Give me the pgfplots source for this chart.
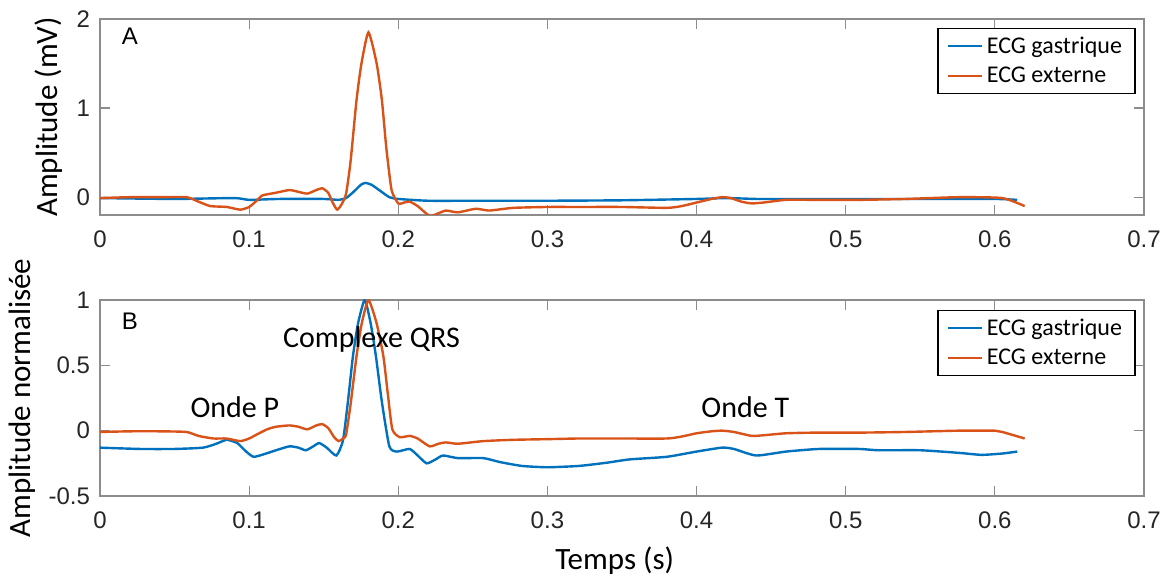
\documentclass[border=0pt]{standalone}
\usepackage{pgfplots}
\pgfplotsset{compat=1.18}
\usepackage{fontspec}
\setmainfont{Carlito}
\newfontfamily\arialfont{Liberation Sans}
\definecolor{mblue}{RGB}{0,114,189}
\definecolor{morange}{RGB}{217,83,25}

\pgfplotstableread{
t v
0 -0.01
0.05 -0.02
0.09 -0.01
0.10 -0.03
0.12 -0.02
0.15 -0.02
0.16 -0.03
0.165 -0.01
0.17 0.06
0.175 0.14
0.178 0.16
0.182 0.14
0.188 0.07
0.194 0.00
0.2 -0.02
0.22 -0.04
0.25 -0.04
0.3 -0.04
0.35 -0.035
0.4 -0.02
0.42 -0.01
0.44 -0.02
0.46 -0.02
0.5 -0.02
0.55 -0.02
0.6 -0.02
0.615 -0.03
}\topblue

\pgfplotstableread{
t v
0 -0.01
0.02 0.0
0.04 0.0
0.058 0.0
0.066 -0.05
0.074 -0.10
0.085 -0.11
0.094 -0.14
0.100 -0.11
0.105 -0.04
0.109 0.02
0.118 0.05
0.127 0.08
0.133 0.06
0.139 0.04
0.145 0.08
0.149 0.10
0.153 0.05
0.156 -0.06
0.159 -0.14
0.162 -0.08
0.165 0.04
0.168 0.40
0.172 1.09
0.1753 1.50
0.180 1.85
0.1855 1.50
0.189 1.09
0.192 0.55
0.1955 0.08
0.2 -0.07
0.204 -0.06
0.2076 -0.05
0.213 -0.10
0.221 -0.21
0.227 -0.18
0.232 -0.15
0.24 -0.17
0.252 -0.13
0.261 -0.15
0.277 -0.12
0.3 -0.11
0.321 -0.11
0.35 -0.11
0.38 -0.12
0.39 -0.10
0.40 -0.06
0.41 -0.02
0.417 0.00
0.423 -0.01
0.43 -0.05
0.437 -0.07
0.445 -0.06
0.46 -0.03
0.48 -0.03
0.509 -0.03
0.54 -0.02
0.576 0.0
0.605 -0.01
0.62 -0.10
}\toporange

\pgfplotstableread{
t v
0 -0.13
0.027 -0.14
0.05 -0.14
0.069 -0.13
0.078 -0.10
0.085 -0.07
0.092 -0.095
0.098 -0.16
0.103 -0.20
0.11 -0.18
0.118 -0.15
0.127 -0.12
0.133 -0.13
0.138 -0.15
0.143 -0.12
0.147 -0.095
0.152 -0.13
0.1585 -0.19
0.163 -0.07
0.1665 0.25
0.1696 0.57
0.173 0.82
0.1775 1.0
0.1815 0.82
0.185 0.57
0.189 0.22
0.194 -0.12
0.199 -0.16
0.2076 -0.14
0.213 -0.19
0.219 -0.25
0.225 -0.22
0.23 -0.19
0.24 -0.21
0.257 -0.21
0.268 -0.24
0.283 -0.27
0.3 -0.28
0.321 -0.27
0.34 -0.245
0.355 -0.22
0.38 -0.20
0.40 -0.16
0.417 -0.13
0.425 -0.14
0.44 -0.19
0.46 -0.16
0.482 -0.14
0.509 -0.14
0.522 -0.15
0.55 -0.15
0.576 -0.17
0.591 -0.185
0.605 -0.175
0.615 -0.16
}\botblue

\pgfplotstableread{
t v
0 -0.01
0.02 -0.005
0.04 -0.005
0.058 -0.01
0.066 -0.04
0.076 -0.06
0.085 -0.06
0.094 -0.08
0.100 -0.06
0.105 -0.03
0.112 0.01
0.118 0.03
0.127 0.04
0.133 0.03
0.139 0.01
0.145 0.04
0.149 0.05
0.153 0.02
0.157 -0.05
0.160 -0.08
0.163 -0.06
0.165 -0.03
0.168 0.20
0.172 0.57
0.1755 0.82
0.180 1.0
0.1855 0.82
0.190 0.57
0.193 0.28
0.196 0.01
0.201 -0.05
0.2076 -0.04
0.213 -0.06
0.221 -0.12
0.227 -0.10
0.232 -0.09
0.24 -0.10
0.257 -0.08
0.277 -0.07
0.3 -0.065
0.321 -0.06
0.35 -0.06
0.38 -0.06
0.39 -0.045
0.40 -0.02
0.41 -0.005
0.417 0.0
0.425 -0.01
0.437 -0.04
0.445 -0.035
0.46 -0.02
0.48 -0.015
0.509 -0.015
0.54 -0.01
0.576 0.0
0.6 0.0
0.605 -0.01
0.62 -0.06
}\botorange

\pgfplotsset{ecg/.style={
  scale only axis, width=522pt, height=98pt,
  xmin=0, xmax=0.7, xtick={0,0.1,0.2,0.3,0.4,0.5,0.6,0.7},
  axis line style={black!45, line width=0.6pt},
  tick style={black!45, line width=0.6pt},
  tick align=inside, major tick length=5pt,
  ticklabel style={font=\arialfont\fontsize{12}{14}\selectfont, text=black!85},
  xticklabel style={yshift=-4.5pt},
  yticklabel style={xshift=-1.5pt},
  /pgf/number format/assume math mode=true,
  label style={font=\fontsize{15.5}{18}\selectfont},
  legend cell align=left,
  legend style={anchor=north east, draw=black, line width=0.6pt,
    font=\fontsize{12}{14}\selectfont, inner xsep=4.5pt, inner ysep=2pt,
    row sep=1.5pt},
  legend image code/.code={\draw[#1, line width=1pt] (0pt,0pt) -- (17pt,0pt);},
  every axis plot/.append style={line width=1.2pt, smooth, tension=0.35},
}}

\begin{document}
\begin{tikzpicture}
\useasboundingbox (0,0) rectangle (584pt,289pt);
\begin{axis}[ecg, at={(50pt,181.5pt)}, anchor=south west,
  ymin=-0.2, ymax=2, ytick={0,1,2},
  ylabel={Amplitude (mV)},
  ylabel style={at={(axis description cs:-0.0489,0.5)}, anchor=center},
  legend style={at={(0.992,0.954)}}]
\addplot[mblue] table[x=t,y=v] {\topblue};
\addlegendentry{ECG gastrique}
\addplot[morange] table[x=t,y=v] {\toporange};
\addlegendentry{ECG externe}
\node[font=\arialfont\fontsize{12}{14}\selectfont] at (axis cs:0.020,1.81) {A};
\end{axis}
\begin{axis}[ecg, at={(50pt,41pt)}, anchor=south west,
  ymin=-0.5, ymax=1, ytick={-0.5,0,0.5,1},
  ylabel={Amplitude normalisée},
  ylabel style={at={(axis description cs:-0.0747,0.5)}, anchor=center},
  xlabel={Temps (s)},
  xlabel style={at={(axis description cs:0.493,-0.332)}, anchor=center},
  legend style={at={(0.992,0.949)}}]
\addplot[mblue] table[x=t,y=v] {\botblue};
\addlegendentry{ECG gastrique}
\addplot[morange] table[x=t,y=v] {\botorange};
\addlegendentry{ECG externe}
\node[font=\arialfont\fontsize{12}{14}\selectfont] at (axis cs:0.020,0.84) {B};
\node[font=\fontsize{15}{17}\selectfont] at (axis cs:0.182,0.70) {Complexe QRS};
\node[font=\fontsize{15}{17}\selectfont] at (axis cs:0.0904,0.177) {Onde P};
\node[font=\fontsize{15}{17}\selectfont] at (axis cs:0.4327,0.177) {Onde T};
\end{axis}
\end{tikzpicture}
\end{document}
